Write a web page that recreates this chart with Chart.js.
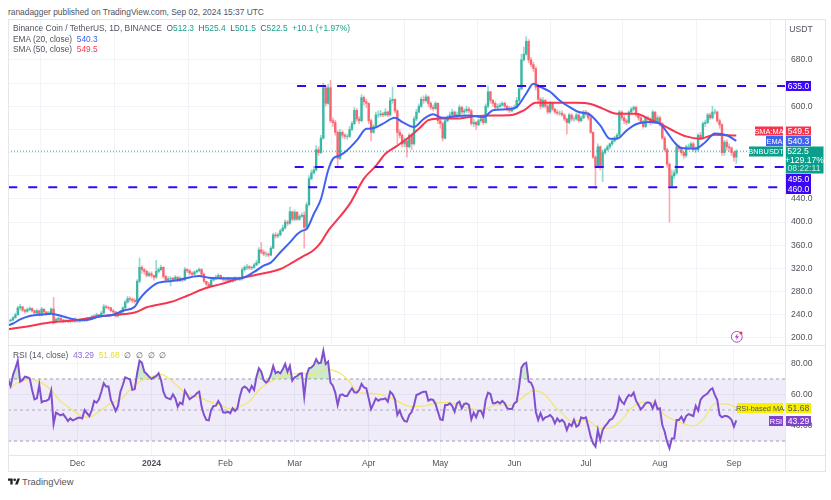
<!DOCTYPE html>
<html>
<head>
<meta charset="utf-8">
<title>BNBUSDT</title>
<script src="https://cdn.jsdelivr.net/npm/chart.js@4"></script>
<style>
  html, body { margin: 0; padding: 0; background: #fff; }
  body { width: 831px; height: 500px; position: relative; overflow: hidden; font-family: "Liberation Sans", sans-serif; font-size: 8.4px; color: #50535e; }
  canvas { position: absolute; left: 0; filter: blur(0.3px); }
  .abs { position: absolute; white-space: nowrap; line-height: 10px; }
  .line { position: absolute; background: #e4e6ec; }
  .teal { color: #1aa18c; }
  .blue { color: #3f62f0; }
  .red { color: #f23a50; }
  .purple { color: #8e6bd8; }
  .yellow { color: #e8dd3a; }
</style>
</head>
<body>
<div class="abs" style="left:8px;top:7px;">ranadagger published on TradingView.com, Sep 02, 2024 15:37 UTC</div>
<canvas id="priceChart" width="831" height="345" style="top:0"></canvas>
<canvas id="rsiChart" width="831" height="471" style="top:0"></canvas>
<div class="line" style="left:8px;top:19px;width:818px;height:1px"></div>
<div class="line" style="left:8px;top:19px;width:1px;height:452px"></div>
<div class="line" style="left:825px;top:19px;width:1px;height:452px"></div>
<div class="line" style="left:8px;top:471px;width:818px;height:1px"></div>
<div class="line" style="left:785px;top:19px;width:1px;height:452px"></div>
<div class="line" style="left:8px;top:345px;width:818px;height:1px"></div>
<div class="line" style="left:8px;top:455px;width:818px;height:1px"></div>
<div class="abs" style="left:13px;top:23px;">Binance Coin / TetherUS, 1D, BINANCE &nbsp;O<span class="teal">512.3</span> &nbsp;H<span class="teal">525.4</span> &nbsp;L<span class="teal">501.5</span> &nbsp;C<span class="teal">522.5</span> &nbsp;<span class="teal">+10.1 (+1.97%)</span></div>
<div class="abs" style="left:13px;top:33.5px;">EMA (20, close) &nbsp;<span class="blue">540.3</span></div>
<div class="abs" style="left:13px;top:44px;">SMA (50, close) &nbsp;<span class="red">549.5</span></div>
<div class="abs" style="left:13px;top:350px;">RSI (14, close) &nbsp;<span class="purple">43.29</span> &nbsp;<span class="yellow">51.68</span> &nbsp;∅ &nbsp;∅ &nbsp;∅ &nbsp;∅</div>
<svg class="abs" style="left:730px;top:330px" width="14" height="14" viewBox="0 0 14 14">
  <circle cx="6.8" cy="6.8" r="5.4" fill="#fff" stroke="#b048c8" stroke-width="1"/>
  <path d="M7.6 3.2 4.8 7.4h2l-.8 3.2 3-4.4H7z" fill="#b048c8"/>
  <circle cx="11" cy="3" r="1.5" fill="#f23645"/>
</svg>
<svg class="abs" style="left:8px;top:478px" width="12" height="7" viewBox="0 0 36 18">
  <path d="M14 18H7V7H0V0h14z" fill="#222"/><circle cx="20" cy="4" r="4" fill="#222"/><path d="M29 18h-8L28.500 0H36z" fill="#222"/>
</svg>
<div class="abs" style="left:22px;top:477px;font-size:9.4px;color:#555">TradingView</div>

<script>
const monthDays = [29, 60, 91, 120, 151, 181, 212, 242, 273, 304];
const monthLabels = ['Dec', '2024', 'Feb', 'Mar', 'Apr', 'May', 'Jun', 'Jul', 'Aug', 'Sep'];
const priceTicks = [200, 240, 280, 320, 360, 400, 440, 480, 520, 560, 600, 640, 680];
const priceLabelled = [200, 240, 280, 320, 360, 400, 440, 600, 680];
const rsiTicks = [40, 60, 80];

const levelValues = [635, 495, 460];
const levelStarts = [121, 120, 0];
const lastClose = 522.5;
const rsiBands = [70, 50, 30];

const opens = [
  228,230,231,235,240,252,254,248,246,249,251,247,243,247,240,250,245,241,243,250,228,232,234,231,229,230,228,231,229,
  232,229,230,231,230,233,233,236,238,240,237,243,254,253,252,247,245,238,240,245,252,262,268,267,265,263,298,322,318,315,308,
  311,308,305,315,318,322,306,300,302,303,300,305,299,303,300,318,316,312,310,314,316,318,310,298,293,290,300,302,305,308,303,
  301,300,302,298,300,303,301,302,318,322,323,321,322,326,330,352,348,345,345,343,355,378,376,378,385,390,400,398,418,
  405,417,405,410,412,391,430,475,485,490,525,520,545,632,605,632,575,572,555,510,555,550,548,548,560,570,593,578,575,615,608,
  605,575,555,565,585,585,587,585,590,585,610,612,592,555,550,535,540,530,550,535,578,590,600,612,610,616,605,598,596,605,
  575,570,545,575,580,585,590,582,585,598,590,592,595,592,570,572,568,575,578,572,600,625,610,605,598,600,602,605,600,595,592,
  596,598,610,630,680,690,712,680,672,665,633,612,600,610,600,590,605,595,590,588,588,585,578,572,585,578,578,585,575,580,
  590,587,580,555,512,497,530,495,520,525,530,535,540,545,550,590,580,575,572,590,595,598,585,580,573,565,580,578,572,590,573,
  580,570,545,525,500,463,480,485,530,527,520,515,530,530,535,525,525,550,545,570,572,585,580,590,590,575,568,520,538,530,528,
  520,512.3
];
const highs = [
  233,233,237,243,255,258,254,250,252,254,252,248,250,248,253,250,246,246,252,270,235,237,236,232,233,231,234,232,235,
  233,233,234,233,236,236,239,240,243,241,246,258,257,255,253,249,246,243,248,254,265,272,271,269,268,301,338,325,320,317,314,
  314,308,334,321,326,323,308,306,306,305,308,306,306,304,322,320,318,314,316,318,321,320,312,298,296,302,305,308,311,309,305,
  303,305,303,302,306,304,305,321,325,327,325,324,329,334,356,365,352,349,347,358,381,382,381,388,395,404,403,426,419,
  421,418,413,416,418,434,480,490,496,532,530,550,640,635,638,645,580,576,558,560,558,553,552,565,574,598,596,582,620,618,612,
  606,578,568,590,592,593,590,596,592,615,633,613,594,560,553,545,545,553,552,582,595,604,616,618,620,618,608,602,608,606,
  580,573,578,584,590,595,592,590,602,600,596,600,598,595,578,574,578,582,580,604,635,626,612,608,604,606,608,607,602,600,599,
  602,615,635,690,702,720,715,684,676,668,638,615,615,612,603,608,607,597,594,592,592,587,580,588,587,582,588,587,583,593,
  593,590,582,556,515,535,532,524,528,533,537,543,548,553,593,592,584,578,592,598,601,600,588,584,576,583,583,580,593,591,584,
  583,572,548,528,502,490,490,535,533,530,522,533,535,538,538,530,553,555,573,576,588,588,600,595,592,578,570,541,542,535,530,
  522,525.4
];
const lows = [
  226,228,230,234,239,248,245,243,244,247,245,241,242,238,238,243,239,240,241,224,226,229,229,227,227,226,226,227,227,
  227,227,228,228,229,231,233,235,236,235,236,242,250,249,245,242,236,236,239,244,251,260,263,261,260,262,295,312,310,305,306,
  304,300,303,312,316,303,297,297,290,297,298,297,297,297,299,313,309,307,308,312,314,307,295,290,286,289,298,301,303,301,298,
  298,298,296,296,298,299,299,300,315,318,318,318,320,325,328,345,342,341,340,342,354,372,373,376,384,388,394,396,402,
  402,403,403,408,355,390,428,473,483,488,515,518,543,600,603,572,565,550,497,508,545,544,543,546,558,568,574,570,573,602,598,
  570,540,553,563,580,582,582,583,582,583,605,588,535,545,530,530,512,528,525,533,575,588,598,605,607,600,594,592,594,570,
  562,540,543,573,578,583,578,580,583,587,585,589,588,567,565,560,566,572,568,570,597,605,600,595,596,598,600,597,592,589,590,
  594,596,608,628,678,688,675,668,660,628,608,595,597,597,587,588,592,587,585,584,583,575,552,570,575,574,576,572,573,578,
  583,576,553,510,457,495,490,470,517,523,526,532,538,543,548,576,570,568,570,588,592,582,576,570,562,563,574,568,570,570,571,
  565,543,522,495,400,460,475,482,522,516,510,512,525,527,522,520,522,542,543,565,570,577,578,586,572,562,515,515,524,522,515,
  505,501.5
];
const closes = [
  230,231,235,240,252,254,248,246,249,251,247,243,247,240,250,245,241,243,250,228,232,234,231,229,230,228,231,229,232,
  229,230,231,230,233,233,236,238,240,237,243,254,253,252,247,245,238,240,245,252,262,268,267,265,263,298,322,318,315,308,311,
  308,305,315,318,322,306,300,302,303,300,305,299,303,300,318,316,312,310,314,316,318,310,298,293,290,300,302,305,308,303,301,
  300,302,298,300,303,301,302,318,322,323,321,322,326,330,352,348,345,345,343,355,378,376,378,385,390,400,398,418,405,
  417,405,410,412,391,430,475,485,490,525,520,545,632,605,632,575,572,555,510,555,550,548,548,560,570,593,578,575,615,608,605,
  575,555,565,585,585,587,585,590,585,610,612,592,555,550,535,540,530,550,535,578,590,600,612,610,616,605,598,596,605,575,
  570,545,575,580,585,590,582,585,598,590,592,595,592,570,572,568,575,578,572,600,625,610,605,598,600,602,605,600,595,592,596,
  598,610,630,680,690,712,680,672,665,633,612,600,610,600,590,605,595,590,588,588,585,578,572,585,578,578,585,575,580,590,
  587,580,555,512,497,530,495,520,525,530,535,540,545,550,590,580,575,572,590,595,598,585,580,573,565,580,578,572,590,573,580,
  570,545,525,500,463,480,485,530,527,520,515,530,530,535,525,525,550,545,570,572,585,580,590,590,575,568,520,538,530,528,520,
  512,522.5
];

const emaDays = [0,2,5,9,13,18,23,30,34,38,44,48,53,55,58,62,65,70,80,84,91,97,103,107,110,114,118,121,123,125,128,131,134,136,139,142,146,150,153,157,162,165,170,174,178,182,188,193,199,203,209,213,217,220,223,227,231,235,239,243,248,252,255,259,263,269,273,276,279,282,288,292,296,301,305];
const emaValues = [222,225,232,238,240,242,237,231,232,237,240,247,254,267,281,294,297,299,307,304,303,303,314,325,330,348,365,379,385,388,414,440,489,509,515,524,541,561,562,570,580,573,564,578,586,580,583,584,581,593,595,599,622,639,633,625,610,599,590,587,567,544,544,558,569,573,570,555,538,528,527,538,553,550,540.3];
const smaDays = [0,8,18,29,38,45,53,58,68,75,82,89,97,105,114,119,124,128,131,134,137,143,149,154,158,163,168,172,176,181,188,196,203,211,216,221,227,231,238,244,249,255,263,269,273,278,284,290,296,301,305];
const smaValues = [215,220,227,231,237,240,244,253,262,273,285,293,303,310,319,330,342,352,365,385,400,431,475,497,518,532,547,561,576,579,579,583,584,585,593,606,606,606,606,604,596,587,587,577,570,559,548,544,551,550,549.5];

const rsiValues = [
  69.4,65.5,72.6,76.9,81.8,68.3,69.4,71.5,71.1,70.4,62.9,56.9,57.5,66.1,54.9,55.8,56,56.9,62.5,41,48.3,47.4,46.6,47.4,45.3,42.9,44.6,43.3,44,
  44.8,45.1,44.6,50,47.9,46.1,50,55.8,54.7,56.9,61.8,67.2,65.1,65.1,56.5,53.2,49.4,52.6,61.8,66.1,71.1,70.4,69.8,62.9,63.5,73.7,81.8,80.5,74.7,73.2,71.5,
  70,71.1,71.9,73.7,69.4,61.8,58.2,57.5,56.9,60.1,57.5,52.2,54.9,53.7,62.5,59.7,56.9,58.2,59,60.8,61.8,52.2,46.8,43.6,43.3,50,52.6,52.8,55.8,53.2,48.5,
  48.3,48.9,47.9,51.1,49.4,51.1,58.6,64,65.1,64,61.8,65.5,62.9,71.5,76.9,74.7,69.4,67.6,68.9,72.6,78.4,73.7,74.7,73.7,76.2,79.7,74.7,78.4,68.9,
  71.1,71.9,73.2,73.7,58.6,72.6,76.9,77.5,79,82.7,80.1,80.5,88.1,79.7,81.2,67.6,65.7,61.2,53.2,59.7,60.1,59,59,61.8,64,61.4,61.2,62.9,66.8,64.6,64,
  57.5,50.6,53.9,57.5,56,56.9,56.9,57.5,55.4,61.8,60.3,56.9,46.8,49.6,45.3,42.9,42.5,46.8,48.7,53.2,59.7,60.3,61.2,61.8,61.8,56,56.9,56.5,53.9,48.9,
  44,43.6,53.2,53.2,54.3,52.6,48.9,54.3,55.4,51.1,53.9,54.3,53.2,44,48.3,45.3,49.6,49.6,46.1,56.5,61.2,60.3,54.3,54.3,55.4,54.3,55.8,54.3,51.1,50.6,50.6,
  54.3,55.4,65.1,77.3,79.7,80.5,68.3,67.6,64,48.9,43.6,47.9,43.6,45.3,45.7,46.8,45.1,41.4,44.6,42.5,43.6,42,37.1,41,39.7,43.6,39.3,40.3,45.3,44.6,
  45.3,39.3,32.8,28.5,26.4,37.1,30.7,37.1,39.7,41.4,43.6,44.2,46.8,50,58.2,55.4,53.9,57.5,59.7,59,61.2,56,53.2,50.4,52.2,54.3,54.9,54.3,51.1,55.4,50.6,
  51.1,40.3,36,29.6,25.3,31.7,31.7,43.6,43.6,45.7,42.5,46.1,47.4,46.8,46.1,52.6,49.6,56.5,58.6,59.7,60.8,62.9,64,59.7,56.5,46.8,45.3,46.1,46.1,45.3,43.6,
  39.3,43.29
];
const rsiMaDays = [0,5,9,13,18,22,26,30,34,38,43,47,51,55,59,64,68,72,76,80,85,89,93,97,101,105,110,113,118,122,128,133,139,143,146,151,157,162,169,175,181,186,193,199,204,211,215,220,225,229,231,236,242,248,253,257,261,267,271,275,280,287,291,296,301,305];
const rsiMaValues = [64,68.3,69.8,68.3,62.9,55.4,51.1,46.8,45.3,48.9,54.3,56.9,62.9,68.3,70.9,73,69.4,64,59.7,58.2,54.9,53.2,50.6,52.2,55.4,62.9,68.3,70.4,73,73.7,73,76.2,73.7,68.3,61.8,60.8,59.7,56.5,52.2,52.8,54.9,54.3,51.1,50,53.2,53.2,57.5,62.5,59.7,52.2,49.6,42.9,43.6,38.2,38.8,43.6,51.1,55.4,53.7,46.8,42.9,39.7,43.6,53.9,53.9,51.68];

const AXIS_FONT = { family: '"Liberation Sans", sans-serif', size: 8.6 };
const UP = '#3ab8a4';
const DOWN = '#f8656f';
const LEVEL = '#3a06f5';
const X_MIN = -0.1;
const X_MAX = 325.4;

function xy(days, values) {
  return days.map(function (d, i) { return { x: d, y: values[i] }; });
}

function daily(values) {
  return values.map(function (v, i) { return { x: i, y: v }; });
}

function flat(start, value) {
  return [{ x: start, y: value }, { x: X_MAX, y: value }];
}

function monthGrid(scale) {
  scale.ticks = monthDays.map(function (d) { return { value: d }; });
}

function tag(ctx, x, y, w, h, color, text, textColor, size) {
  ctx.fillStyle = color;
  ctx.fillRect(x, y, w, h);
  ctx.fillStyle = textColor || '#fff';
  ctx.font = (size || 8.6) + 'px "Liberation Sans", sans-serif';
  ctx.textAlign = 'center';
  ctx.textBaseline = 'middle';
  ctx.fillText(text, x + w / 2, y + h / 2 + 0.5);
}

const priceTags = {
  id: 'priceTags',
  afterDraw: function (chart) {
    const ctx = chart.ctx;
    const y635 = chart.scales.y.getPixelForValue(635);
    ctx.save();
    tag(ctx, 786, y635 - 5, 25, 10, LEVEL, '635.0');
    tag(ctx, 755, 126.5, 28, 9, '#f7344c', 'SMA:MA', '#fff', 7.4);
    tag(ctx, 786, 126.5, 25, 9, '#f7344c', '549.5');
    tag(ctx, 766, 136, 17, 10, '#3f62f0', 'EMA', '#fff', 7.4);
    tag(ctx, 786, 136, 25, 10, '#3f62f0', '540.3');
    tag(ctx, 749, 146.5, 34, 10, '#0a9f8a', 'BNBUSDT', '#fff', 7.4);
    tag(ctx, 786, 146.5, 37.5, 27, '#0a9f8a', '');
    ctx.font = '8.6px "Liberation Sans", sans-serif';
    ctx.fillStyle = '#fff';
    ctx.fillText('522.5', 798, 152);
    ctx.fillText('+129.17%', 804.5, 160.5);
    ctx.fillStyle = '#c9eee7';
    ctx.fillText('08:22:11', 804, 168.5);
    tag(ctx, 786, 174, 25, 10, LEVEL, '495.0');
    tag(ctx, 786, 184, 25, 10, LEVEL, '460.0');
    ctx.fillStyle = '#50535e';
    ctx.fillText('USDT', 801, 30);
    ctx.restore();
  },
};

const rsiTags = {
  id: 'rsiTags',
  afterDraw: function (chart) {
    const ctx = chart.ctx;
    ctx.save();
    tag(ctx, 737, 403, 46, 10, '#f9f000', 'RSI-based MA', '#555', 7.4);
    tag(ctx, 786, 403, 25, 10, '#f9f000', '51.68', '#555');
    tag(ctx, 769, 416, 14, 10, '#7e43c8', 'RSI', '#fff', 7.4);
    tag(ctx, 786, 416, 25, 10, '#7e43c8', '43.29');
    ctx.restore();
  },
};

new Chart(document.getElementById('priceChart'), {
  type: 'bar',
  data: {
    datasets: [
      {
        label: 'Wicks',
        data: lows.map(function (l, i) { return { x: i, y: [l, highs[i]] }; }),
        backgroundColor: closes.map(function (c, i) { return c >= opens[i] ? UP + '88' : DOWN + '88'; }),
        barThickness: 1,
        grouped: false,
        order: 6,
      },
      {
        label: 'Bodies',
        data: opens.map(function (o, i) { return { x: i, y: [o, closes[i]] }; }),
        backgroundColor: closes.map(function (c, i) { return c >= opens[i] ? UP : DOWN; }),
        barThickness: 1.7,
        grouped: false,
        order: 5,
      },
      { type: 'line', label: 'SMA 50', data: xy(smaDays, smaValues), borderColor: '#f5364e', borderWidth: 2, pointRadius: 0, cubicInterpolationMode: 'monotone', order: 3 },
      { type: 'line', label: 'EMA 20', data: xy(emaDays, emaValues), borderColor: '#3f62f0', borderWidth: 2, pointRadius: 0, cubicInterpolationMode: 'monotone', order: 2 },
      { type: 'line', label: 'Last', data: flat(X_MIN, lastClose), borderColor: '#22ab94', borderWidth: 1, borderDash: [1, 2], pointRadius: 0, order: 4 },
      { type: 'line', label: '635', data: flat(levelStarts[0], levelValues[0]), borderColor: LEVEL, borderWidth: 2, borderDash: [9, 11], pointRadius: 0, order: 1 },
      { type: 'line', label: '495', data: flat(levelStarts[1], levelValues[1]), borderColor: LEVEL, borderWidth: 2, borderDash: [9, 11], pointRadius: 0, order: 1 },
      { type: 'line', label: '460', data: flat(levelStarts[2], levelValues[2]), borderColor: LEVEL, borderWidth: 2, borderDash: [9, 11], pointRadius: 0, order: 1 },
    ],
  },
  options: {
    responsive: false,
    animation: false,
    events: [],
    layout: { padding: { left: 8, right: 5, top: 19, bottom: 0 } },
    plugins: { legend: { display: false }, tooltip: { enabled: false } },
    scales: {
      x: {
        type: 'linear', min: X_MIN, max: X_MAX, offset: false,
        border: { display: false },
        grid: { color: '#f1f3f8', drawTicks: false },
        ticks: { display: false },
        afterBuildTicks: monthGrid,
        afterFit: function (s) { s.height = 0; s.paddingLeft = 0; s.paddingRight = 0; },
      },
      y: {
        position: 'right', min: 187.9, max: 750.6,
        border: { display: false },
        grid: { color: '#f1f3f8', drawTicks: false },
        ticks: {
          font: AXIS_FONT, color: '#50535e', padding: 6, autoSkip: false,
          callback: function (v) { return priceLabelled.indexOf(v) >= 0 ? v.toFixed(1) : ''; },
        },
        afterBuildTicks: function (s) { s.ticks = priceTicks.map(function (v) { return { value: v }; }); },
        afterFit: function (s) { s.width = 41; s.paddingTop = 0; s.paddingBottom = 0; },
      },
    },
  },
  plugins: [priceTags],
});

new Chart(document.getElementById('rsiChart'), {
  type: 'line',
  data: {
    datasets: [
      { label: 'Band top', data: flat(X_MIN, rsiBands[0]), borderColor: '#a0a2ac', borderWidth: 1, borderDash: [3, 3], pointRadius: 0, fill: '+1', backgroundColor: 'rgba(126,87,194,0.12)', order: 6 },
      { label: 'Band bottom', data: flat(X_MIN, rsiBands[2]), borderColor: '#a0a2ac', borderWidth: 1, borderDash: [3, 3], pointRadius: 0, order: 6 },
      { label: 'Middle', data: flat(X_MIN, rsiBands[1]), borderColor: '#b4b6be', borderWidth: 1, borderDash: [3, 3], pointRadius: 0, order: 6 },
      { label: 'RSI MA', data: xy(rsiMaDays, rsiMaValues), borderColor: '#f2e76a', borderWidth: 1.2, pointRadius: 0, cubicInterpolationMode: 'monotone', order: 3 },
      { label: 'Overbought', data: daily(rsiValues), borderWidth: 0, pointRadius: 0, fill: { value: 70, above: 'rgba(76,175,80,0.28)', below: 'transparent' }, order: 4 },
      { label: 'Oversold', data: daily(rsiValues), borderWidth: 0, pointRadius: 0, fill: { value: 30, above: 'transparent', below: 'rgba(242,54,69,0.18)' }, order: 4 },
      { label: 'RSI', data: daily(rsiValues), borderColor: '#8150cf', borderWidth: 2, pointRadius: 0, order: 1 },
    ],
  },
  options: {
    responsive: false,
    animation: false,
    events: [],
    layout: { padding: { left: 8, right: 5, top: 345, bottom: 0 } },
    plugins: { legend: { display: false }, tooltip: { enabled: false } },
    scales: {
      x: {
        type: 'linear', min: X_MIN, max: X_MAX, offset: false,
        border: { display: false },
        grid: { color: '#f1f3f8', drawTicks: false },
        ticks: {
          font: function (c) { return { family: AXIS_FONT.family, size: 8.6, weight: c.index === 1 ? 'bold' : 'normal' }; },
          color: '#50535e', padding: 3, autoSkip: false, maxRotation: 0,
          callback: function (v, i) { return monthLabels[i]; },
        },
        afterBuildTicks: monthGrid,
        afterFit: function (s) { s.height = 16; s.paddingLeft = 0; s.paddingRight = 0; },
      },
      y: {
        position: 'right', min: 21, max: 91.9,
        border: { display: false },
        grid: { color: '#f1f3f8', drawTicks: false },
        ticks: {
          font: AXIS_FONT, color: '#50535e', padding: 6, autoSkip: false,
          callback: function (v) { return v.toFixed(2); },
        },
        afterBuildTicks: function (s) { s.ticks = rsiTicks.map(function (v) { return { value: v }; }); },
        afterFit: function (s) { s.width = 41; s.paddingTop = 0; s.paddingBottom = 0; },
      },
    },
  },
  plugins: [rsiTags],
});
</script>
</body>
</html>
